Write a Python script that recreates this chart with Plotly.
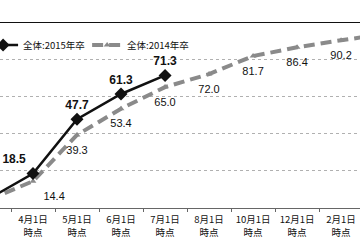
import plotly.graph_objects as go

categories = ["3月1日<br>時点", "4月1日<br>時点", "5月1日<br>時点", "6月1日<br>時点", "7月1日<br>時点",
              "8月1日<br>時点", "10月1日<br>時点", "12月1日<br>時点", "2月1日<br>時点", "3月1日<br>時点 "]
series_2015 = [5.0, 18.5, 47.7, 61.3, 71.3, None, None, None, None, None]
series_2014 = [4.5, 14.4, 39.3, 53.4, 65.0, 72.0, 81.7, 86.4, 90.2, 93.5]
name_2015 = "全体:2015年卒"
name_2014 = "全体:2014年卒"

lab_font = "Liberation Sans Narrow, Arial Narrow, Liberation Sans, Arial, sans-serif"
mix_font = "Liberation Sans Narrow, Noto Sans CJK JP, sans-serif"
cjk_font = "Liberation Sans Narrow, Noto Sans CJK JP, sans-serif"

fig = go.Figure()
# 2014 line
fig.add_trace(go.Scatter(
    x=categories, y=series_2014, name=name_2014, mode="lines+markers",
    line=dict(color="#8a8a8a", width=4, dash="11px,6px"),
    marker=dict(symbol="triangle-up", size=6, color="#8a8a8a"),
    legend="legend2", cliponaxis=False,
))
# 2015 line
fig.add_trace(go.Scatter(
    x=categories, y=series_2015, name=name_2015, mode="lines+markers+text",
    line=dict(color="#111", width=2.5),
    marker=dict(symbol="diamond", size=10, color="#111"),
    text=[""] + [f"{v:.1f}" if v is not None else "" for v in series_2015[1:]],
    textposition=["top center", "top left"] + ["top center"] * 8,
    textfont=dict(family=lab_font, size=12, color="#111", weight="bold"),
    legend="legend", cliponaxis=False,
))
# 2014 labels (transparent markers give the label offset), drawn on top
fig.add_trace(go.Scatter(
    x=categories, y=series_2014, mode="markers+text", showlegend=False, hoverinfo="skip",
    marker=dict(size=15, color="rgba(0,0,0,0)"),
    text=[""] + [f"{v:.1f}" for v in series_2014[1:]],
    textposition=["middle right", "bottom right"] + ["bottom center"] * 8,
    textfont=dict(family=lab_font, size=11, color="#111"),
    cliponaxis=False,
))
# label of the first (partly off-screen) 2014 point
fig.add_annotation(
    x=0, y=series_2014[0], xref="x", yref="y",
    axref="x", ax=0.5, ayref="y", ay=series_2014[0],
    showarrow=False, xanchor="left", yanchor="middle", xshift=10,
    text=f"{series_2014[0]:.1f}",
    font=dict(family=lab_font, size=11, color="#111"),
)

fig.add_shape(type="line", xref="paper", yref="y", x0=0, x1=1, y0=100, y1=100,
              line=dict(color="#111", width=2))

leg_common = dict(orientation="v", yanchor="middle", y=0.876, xanchor="left",
                  font=dict(family=mix_font, size=9.5, color="#111"),
                  bgcolor="rgba(255,255,255,0)")

fig.update_layout(
    width=360, height=240,
    margin=dict(l=0, r=0, t=22, b=32, autoexpand=False),
    paper_bgcolor="white", plot_bgcolor="white",
    showlegend=True,
    legend=dict(x=-0.047, **leg_common),
    legend2=dict(x=0.242, **leg_common),
    xaxis=dict(type="category", range=[0.25, 8.43], showgrid=False, automargin=False,
               showline=True, linecolor="#666", linewidth=1, tickangle=0,
               ticks="outside", tickson="boundaries", ticklen=3, tickcolor="#666",
               ticklabelstandoff=3,
               tickfont=dict(family=cjk_font, size=9.5, color="#111")),
    yaxis=dict(range=[0, 100], dtick=20, showticklabels=False, showgrid=True,
               gridcolor="#b0b0b0", griddash="dot", gridwidth=1, automargin=False,
               zeroline=False, showline=False),
)

fig.write_html("out.html")
